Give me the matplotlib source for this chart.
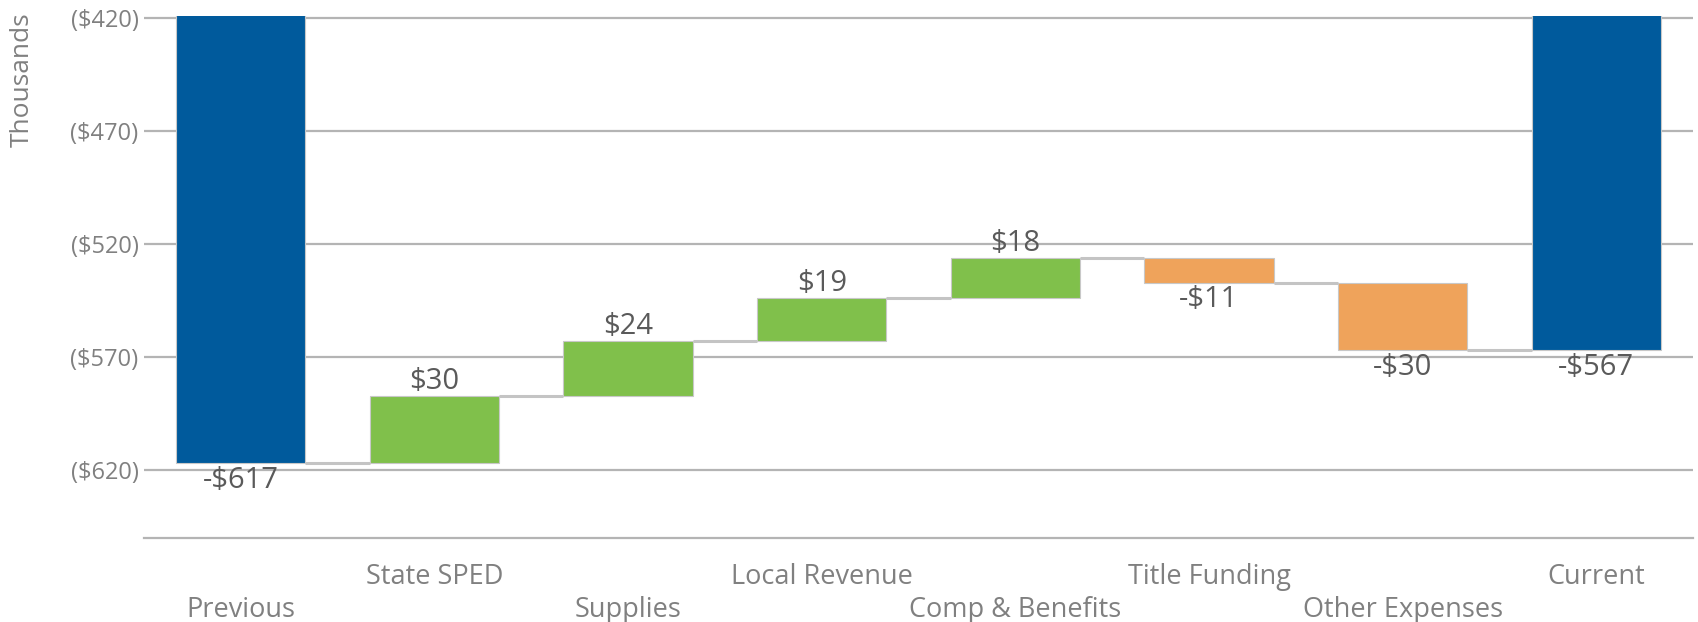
import matplotlib
matplotlib.use("Agg")
import matplotlib.pyplot as plt
import numpy as np

categories = ["Previous", "State SPED", "Supplies", "Local Revenue",
              "Comp & Benefits", "Title Funding", "Other Expenses", "Current"]
values = [-617, 30, 24, 19, 18, -11, -30, -567]
is_total = [True, False, False, False, False, False, False, True]
y_ticks = [-620, -570, -520, -470, -420]

BLUE = "#005a9c"
GREEN = "#80c04b"
ORANGE = "#efa35b"
GRID = "#b4b4b4"
TICK_C = "#808080"
LABEL_C = "#5a5a5a"

plt.rcParams['font.family'] = ['Open Sans', 'DejaVu Sans']

fig = plt.figure(figsize=(16.98, 6.22), dpi=100)
ax = fig.add_axes([144/1698, 1-538/622, (1693-144)/1698, (538-16)/622])

x = np.arange(len(categories))
width = 0.667

running = 0
bottoms, heights, colors, ends = [], [], [], []
for v, t in zip(values, is_total):
    if t:
        b, h = 0, v
        running = v
        c = BLUE
    else:
        b, h = running, v
        running = running + v
        c = GREEN if v > 0 else ORANGE
    bottoms.append(b); heights.append(h); colors.append(c); ends.append(running)

ax.bar(x, heights, bottom=bottoms, width=width, color=colors,
       edgecolor="#c8c8c8", linewidth=0.8, zorder=3)

# connectors
for i in range(len(x) - 1):
    ax.plot([x[i] + width/2, x[i+1] - width/2], [ends[i], ends[i]],
            color="#c4c4c4", lw=2.2, zorder=2, solid_capstyle="butt")

# data labels
for i, (v, t) in enumerate(zip(values, is_total)):
    s = ("-$%d" % abs(v)) if v < 0 else ("$%d" % v)
    if t:
        y = v
        off, va = -2, "top"
    elif v > 0:
        y = ends[i]
        off, va = 0, "bottom"
    else:
        y = ends[i]
        off, va = -2, "top"
    ax.annotate(s, (x[i], y), xytext=(0, off), textcoords="offset points",
                ha="center", va=va, fontsize=21, color=LABEL_C, zorder=4)

ax.set_xlim(-0.5, len(categories) - 0.5)
ax.set_ylim(-650, -419)
ax.set_yticks(y_ticks)
ax.set_yticklabels(["(${})".format(abs(t)) for t in y_ticks])
ax.yaxis.grid(True, color=GRID, lw=1.6, zorder=0)
ax.set_axisbelow(True)
ax.tick_params(axis="y", length=0, pad=4, labelsize=17, labelcolor=TICK_C)

ax.set_xticks(x)
ax.set_xticklabels(categories)
ax.tick_params(axis="x", length=0, labelsize=19.5, labelcolor=TICK_C)
for i, tk in enumerate(ax.xaxis.get_major_ticks()):
    tk.set_pad(42 if i % 2 == 0 else 18)

for sp in ["top", "left", "right"]:
    ax.spines[sp].set_visible(False)
ax.spines["bottom"].set_color(GRID)
ax.spines["bottom"].set_linewidth(1.6)

fig.text(22/1698, 1-12/622, "Thousands", rotation=90, ha="center", va="top",
         fontsize=19, color=TICK_C)

fig.savefig("out.png", dpi=100)
